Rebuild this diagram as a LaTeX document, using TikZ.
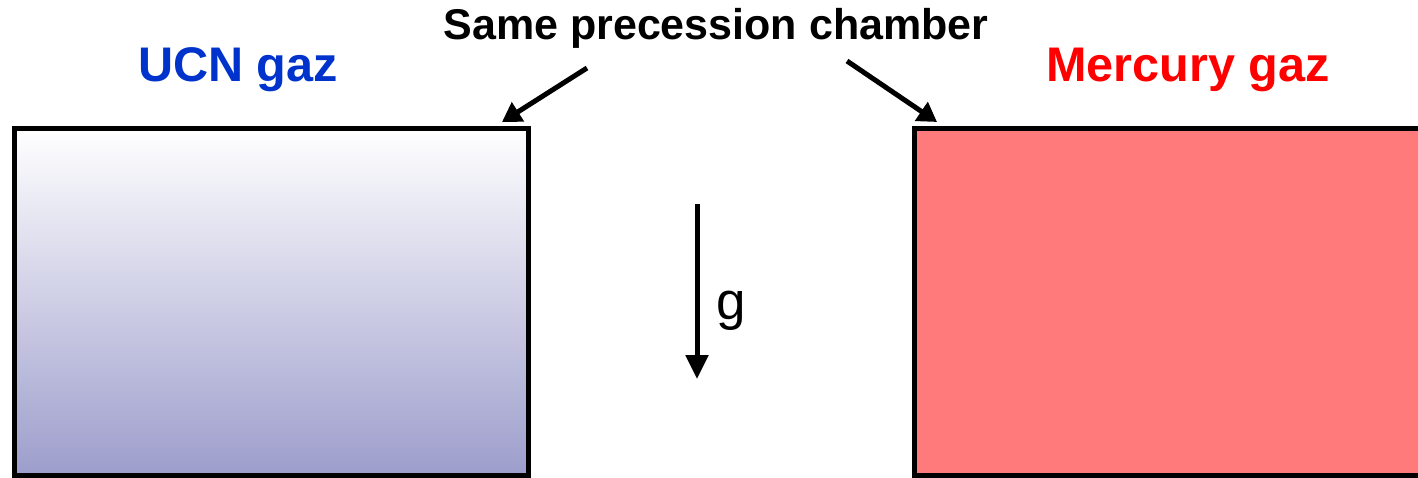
\documentclass[tikz,border=0pt]{standalone}
\usepackage{fontspec}
\setmainfont{Liberation Sans}
\usetikzlibrary{arrows.meta}
\definecolor{ucnblue}{RGB}{0,51,204}
\definecolor{hgred}{RGB}{255,0,0}
\definecolor{hgfill}{RGB}{255,122,122}
\definecolor{ucnbottom}{RGB}{157,157,204}
\definecolor{ucnmid}{RGB}{222,222,234}
\tikzset{
  chamber/.style={draw=black, line width=5pt, inner sep=0pt},
  pointer/.style={line width=5pt, -{Triangle[width=22pt,length=19pt]}},
  title/.style={inner sep=0pt, anchor=base, font=\bfseries\fontsize{43}{50}\selectfont},
  gaslabel/.style={inner sep=0pt, anchor=base, font=\bfseries\fontsize{48.6}{56}\selectfont},
}
\begin{document}
\begin{tikzpicture}[x=1pt,y=-1pt]
\useasboundingbox (0,0) rectangle (1418,478);
% chambers
\node[chamber, minimum width=514pt, minimum height=347pt,
      top color=white, middle color=ucnmid, bottom color=ucnbottom] (ucn) at (271.5,302) {};
\node[chamber, minimum width=530pt, minimum height=347pt, fill=hgfill] (hg) at (1179.5,302) {};
% labels
\node[title] (same) at (716,40) {Same precession chamber};
\node[gaslabel, text=ucnblue] (ucnlab) at (238,82) {UCN gaz};
\node[gaslabel, text=hgred] (hglab) at (1188,82) {Mercury gaz};
% pointer arrows
\coordinate (ls) at (587,68);
\coordinate (le) at (502,122);
\coordinate (rs) at (847,61);
\coordinate (re) at (937,122);
\draw[pointer] (ls) -- (le);
\draw[pointer] (rs) -- (re);
% gravity
\coordinate (gs) at (697,204);
\coordinate (ge) at (697,379);
\draw[line width=5pt, -{Triangle[width=22pt,length=24pt]}] (gs) -- (ge);
\node[inner sep=0pt, anchor=base west, font=\fontsize{53}{60}\selectfont] (glab) at (716,319) {g};
\end{tikzpicture}
\end{document}
